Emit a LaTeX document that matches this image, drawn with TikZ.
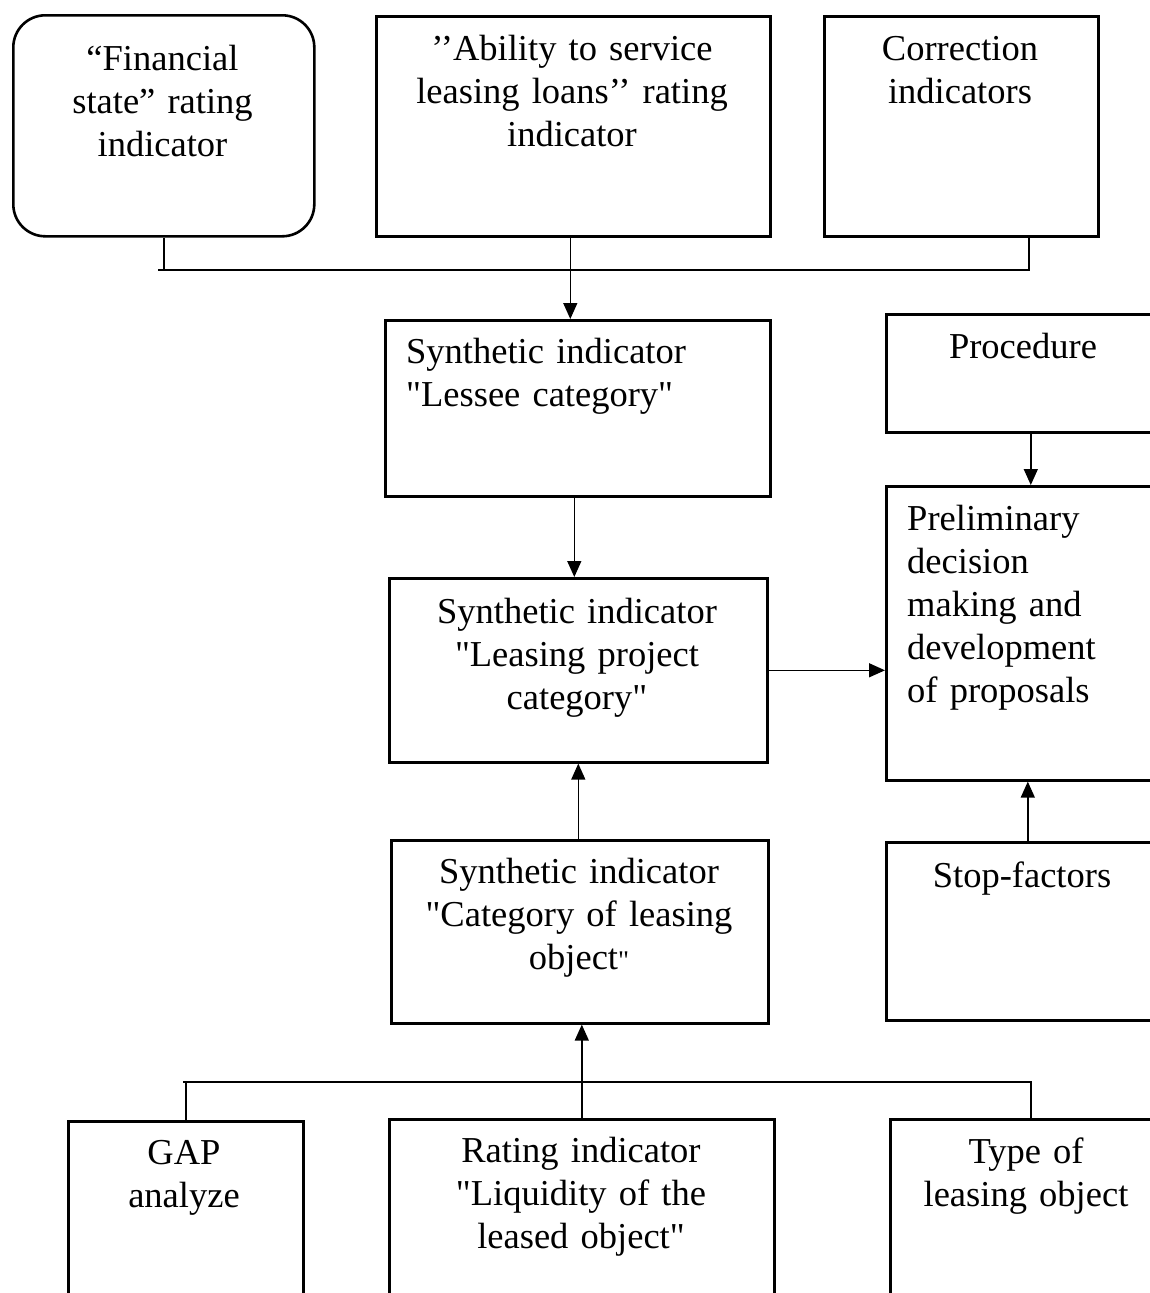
\documentclass[tikz,border=0pt]{standalone}
\usepackage{fontspec}
\setmainfont{Liberation Serif}[Ligatures=TeXOff]
\usetikzlibrary{arrows.meta}
\begin{document}
\begin{tikzpicture}[x=1pt,y=-1pt,
  box/.style={draw,line width=2.6pt,rectangle,anchor=north west,inner sep=0pt},
  rbox/.style={box,rounded corners=32pt},
  txt/.style={anchor=base,align=center,text width=420pt,inner sep=0pt,font=\fontsize{36.5}{43}\selectfont},
  ltxt/.style={anchor=base west,align=left,text width=420pt,inner sep=0pt,font=\fontsize{36.5}{43}\selectfont},
  conn/.style={line width=1.4pt},
  arr/.style={line width=1.4pt,-{Triangle[length=16pt,width=14pt]}}]
\clip (0,0) rectangle (1150,1293);
\fill[white] (0,0) rectangle (1150,1293);
% boxes
\node[rbox,minimum width=301,minimum height=221] (b1) at (12,14) {};
\node[box,minimum width=394,minimum height=220] (b2) at (375,15) {};
\node[box,minimum width=274,minimum height=220] (b3) at (823,15) {};
\node[box,minimum width=385,minimum height=176] (b4) at (384,319) {};
\node[box,minimum width=277,minimum height=118] (b5) at (885,313) {};
\node[box,minimum width=277,minimum height=294] (b6) at (885,485) {};
\node[box,minimum width=378,minimum height=184] (b7) at (388,577) {};
\node[box,minimum width=377,minimum height=183] (b8) at (390,839) {};
\node[box,minimum width=277,minimum height=178] (b9) at (885,841) {};
\node[box,minimum width=235,minimum height=220] (b10) at (67,1120) {};
\node[box,minimum width=385,minimum height=220] (b11) at (388,1118) {};
\node[box,minimum width=273,minimum height=220] (b12) at (889,1118) {};
% texts
\node[txt] (t1) at (162.5,70) {“Financial\\state” rating\\indicator};
\node[txt] (t2) at (572,60) {’’Ability to service\\leasing loans’’ rating\\indicator};
\node[txt] (t3) at (960,60) {Correction\\indicators};
\node[ltxt] (t4) at (406,363) {Synthetic indicator\\"Lessee category"};
\node[txt] (t5) at (1023,358) {Procedure};
\node[ltxt] (t6) at (907,530) {Preliminary\\decision\\making and\\development\\of proposals};
\node[txt] (t7) at (577,623) {Synthetic indicator\\"Leasing project\\category"};
\node[txt] (t8) at (579,883) {Synthetic indicator\\"Category of leasing\\object{\fontsize{27}{30}\selectfont"}};
\node[txt] (t9) at (1022,887) {Stop-factors};
\node[txt] (t10) at (184,1164) {GAP\\analyze};
\node[txt] (t11) at (581,1162) {Rating indicator\\"Liquidity of the\\leased object"};
\node[txt] (t12) at (1026,1163) {Type of\\leasing object};
% bus coordinates
\coordinate (busL) at (158,270);
\coordinate (busR) at (1029,270);
\coordinate (busBL) at (183,1082);
\coordinate (busBR) at (1031,1082);
% top bus
\draw[conn] (busL) -- (b1.south |- busL);
\draw[conn] (b1.south) |- (busR) -- (busR |- b3.south);
\draw[arr] ([xshift=-3]b2.south) -- ([xshift=-3]b2.south |- b4.north);
\draw[arr] ([xshift=-3.5]b4.south) -- ([xshift=-3.5]b4.south |- b7.north);
\draw[arr] ([xshift=-1.5]b8.north) -- ([xshift=-1.5]b8.north |- b7.south);
\draw[arr] (b11.north) -- (b11.north |- b8.south);
% bottom bus
\draw[conn] (busBL) -- (b10.north |- busBL);
\draw[conn] (b10.north) |- (busBR) -- (busBR |- b12.north);
% right column
\draw[arr] (b7.east) -- (b7.east -| b6.west);
\draw[arr] ([xshift=6]b5.south) -- ([xshift=6]b5.south |- b6.north);
\draw[arr] ([xshift=3]b9.north) -- ([xshift=3]b9.north |- b6.south);
\end{tikzpicture}
\end{document}
